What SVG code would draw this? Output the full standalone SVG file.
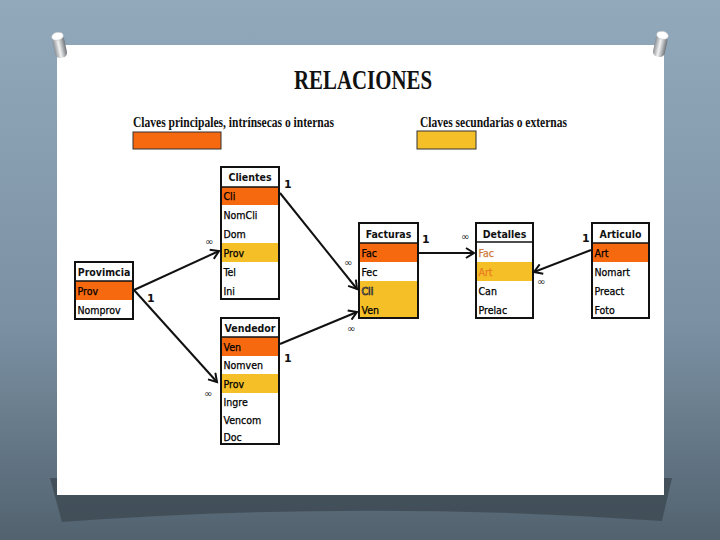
<svg xmlns="http://www.w3.org/2000/svg" width="720" height="540" viewBox="0 0 720 540">
<defs>
<linearGradient id="bg" x1="0" y1="0" x2="0" y2="1">
<stop offset="0" stop-color="#92a9bc"/>
<stop offset="0.6" stop-color="#7b91a3"/>
<stop offset="1" stop-color="#52626f"/>
</linearGradient>
<linearGradient id="pin" x1="0" y1="0" x2="1" y2="0">
<stop offset="0" stop-color="#8a8f94"/>
<stop offset="0.45" stop-color="#f2f2f2"/>
<stop offset="1" stop-color="#6e7378"/>
</linearGradient>
<marker id="arr" markerWidth="12" markerHeight="12" refX="9" refY="6" orient="auto" markerUnits="userSpaceOnUse">
<path d="M1,1 L9,6 L1,11" fill="none" stroke="#111" stroke-width="2" stroke-linejoin="miter"/>
</marker>
<style>
.tb{fill:none;stroke:#111;stroke-width:2}
.hl{stroke:#111;stroke-width:1.5}
.hd{font-family:"DejaVu Sans Condensed","DejaVu Sans",sans-serif;font-weight:bold;font-size:10.5px;fill:#111;text-anchor:middle}
.rw{font-family:"DejaVu Sans Condensed","DejaVu Sans",sans-serif;font-size:10.5px;fill:#000;stroke:#000;stroke-width:0.25}
.pk{fill:#f6690f}
.fk{fill:#f5bf28}
.one{font-family:"DejaVu Sans",sans-serif;font-weight:bold;font-size:11px;fill:#111}
.inf{font-family:"DejaVu Sans",sans-serif;font-size:10px;fill:#222}
.cn{stroke:#111;stroke-width:2;fill:none;marker-end:url(#arr)}
.leg{font-family:"Liberation Serif",serif;font-weight:bold;font-size:14px;fill:#111}
</style>
</defs>
<rect x="0" y="0" width="720" height="540" fill="url(#bg)"/>
<path d="M50,478 L672,478 L662,521 Q362,500 62,522 Z" fill="#3e4b55" opacity="0.85"/>
<rect x="57" y="45" width="607" height="450" fill="#ffffff"/>
<g id="pins">
<g transform="translate(60,48) rotate(-12)">
<rect x="-6" y="-12" width="12" height="22" rx="5" fill="url(#pin)"/>
<ellipse cx="0" cy="-12" rx="6" ry="4" fill="#ffffff" stroke="#b0b4b8" stroke-width="0.5"/>
</g>
<g transform="translate(660,47) rotate(12)">
<rect x="-6" y="-12" width="12" height="22" rx="5" fill="url(#pin)"/>
<ellipse cx="0" cy="-12" rx="6" ry="4" fill="#ffffff" stroke="#b0b4b8" stroke-width="0.5"/>
</g>
</g>
<text x="363" y="89" font-family="Liberation Serif,serif" font-weight="bold" font-size="28" text-anchor="middle" textLength="138" lengthAdjust="spacingAndGlyphs" fill="#111">RELACIONES</text>
<g id="legend">
<text class="leg" x="133" y="127" textLength="201" lengthAdjust="spacingAndGlyphs">Claves principales,  intrínsecas o internas</text>
<rect x="133" y="132" width="88" height="17" fill="#f6690f" stroke="#333" stroke-width="1"/>
<text class="leg" x="420" y="127" textLength="147" lengthAdjust="spacingAndGlyphs">Claves secundarias o externas</text>
<rect x="417" y="131" width="59" height="18" fill="#f5bf28" stroke="#333" stroke-width="1"/>
</g>
<g id="clientes">
<rect x="221" y="167" width="58" height="132" fill="#fff"/>
<rect class="pk" x="221" y="187" width="58" height="18"/>
<rect class="fk" x="221" y="243" width="58" height="19"/>
<line class="hl" x1="221" y1="187" x2="279" y2="187"/>
<rect class="tb" x="221" y="167" width="58" height="132"/>
<text class="hd" x="250" y="181">Clientes</text>
<text class="rw" x="223.5" y="200">Cli</text>
<text class="rw" x="223.5" y="219">NomCli</text>
<text class="rw" x="223.5" y="238">Dom</text>
<text class="rw" x="223.5" y="257">Prov</text>
<text class="rw" x="223.5" y="276">Tel</text>
<text class="rw" x="223.5" y="295">Ini</text>
</g>
<g id="provincia">
<rect x="75" y="262" width="58" height="57" fill="#fff"/>
<rect class="pk" x="75" y="281" width="58" height="19"/>
<line class="hl" x1="75" y1="281" x2="133" y2="281"/>
<rect class="tb" x="75" y="262" width="58" height="57"/>
<text class="hd" x="104" y="276">Provimcia</text>
<text class="rw" x="77.5" y="295">Prov</text>
<text class="rw" x="77.5" y="314">Nomprov</text>
</g>
<g id="vendedor">
<rect x="221" y="318" width="58" height="126" fill="#fff"/>
<rect class="pk" x="221" y="337" width="58" height="19"/>
<rect class="fk" x="221" y="374" width="58" height="19"/>
<line class="hl" x1="221" y1="337" x2="279" y2="337"/>
<rect class="tb" x="221" y="318" width="58" height="126"/>
<text class="hd" x="250" y="332">Vendedor</text>
<text class="rw" x="223.5" y="351">Ven</text>
<text class="rw" x="223.5" y="369">Nomven</text>
<text class="rw" x="223.5" y="388">Prov</text>
<text class="rw" x="223.5" y="406">Ingre</text>
<text class="rw" x="223.5" y="424">Vencom</text>
<text class="rw" x="223.5" y="441">Doc</text>
</g>
<g id="facturas">
<rect x="359" y="223" width="59" height="95" fill="#fff"/>
<rect class="pk" x="359" y="243" width="59" height="19"/>
<rect class="fk" x="359" y="281" width="59" height="37"/>
<line class="hl" x1="359" y1="243" x2="418" y2="243"/>
<rect class="tb" x="359" y="223" width="59" height="95"/>
<text class="hd" x="388.5" y="238">Facturas</text>
<text class="rw" x="361.5" y="257">Fac</text>
<text class="rw" x="361.5" y="276">Fec</text>
<text class="rw" x="361.5" y="295" style="fill:#fffdf0;stroke:#1a1a1a;stroke-width:0.7">Cli</text>
<text class="rw" x="361.5" y="314">Ven</text>
</g>
<g id="detalles">
<rect x="476" y="223" width="57" height="95" fill="#fff"/>
<rect class="fk" x="476" y="262" width="57" height="19"/>
<line class="hl" x1="476" y1="242" x2="533" y2="242"/>
<rect class="tb" x="476" y="223" width="57" height="95"/>
<text class="hd" x="504.5" y="238">Detalles</text>
<text class="rw" x="478.5" y="257" style="fill:#d07a3a;stroke:#d07a3a">Fac</text>
<text class="rw" x="478.5" y="276" style="fill:#ea7d22;stroke:#ea7d22">Art</text>
<text class="rw" x="478.5" y="295">Can</text>
<text class="rw" x="478.5" y="314">Prelac</text>
</g>
<g id="articulo">
<rect x="592" y="223" width="57" height="95" fill="#fff"/>
<rect class="pk" x="592" y="243" width="57" height="19"/>
<line class="hl" x1="592" y1="243" x2="649" y2="243"/>
<rect class="tb" x="592" y="223" width="57" height="95"/>
<text class="hd" x="620.5" y="238">Articulo</text>
<text class="rw" x="594.5" y="257">Art</text>
<text class="rw" x="594.5" y="276">Nomart</text>
<text class="rw" x="594.5" y="295">Preact</text>
<text class="rw" x="594.5" y="314">Foto</text>
</g>
<g id="connectors">
<line class="cn" x1="280" y1="193" x2="357" y2="289"/>
<line class="cn" x1="134" y1="290" x2="219" y2="251"/>
<line class="cn" x1="134" y1="290" x2="217" y2="382"/>
<line class="cn" x1="280" y1="344" x2="357" y2="312"/>
<line class="cn" x1="418" y1="253" x2="474" y2="253"/>
<line class="cn" x1="591" y1="250" x2="534" y2="272"/>
<text class="one" x="284" y="188">1</text>
<text class="one" x="147" y="302">1</text>
<text class="one" x="284" y="362">1</text>
<text class="one" x="422" y="243" font-weight="normal">1</text>
<text class="one" x="582" y="242">1</text>
<text class="inf" x="205" y="245">∞</text>
<text class="inf" x="344" y="266">∞</text>
<text class="inf" x="461" y="240">∞</text>
<text class="inf" x="537" y="285">∞</text>
<text class="inf" x="347" y="332">∞</text>
<text class="inf" x="204" y="397">∞</text>
</g>
</svg>
